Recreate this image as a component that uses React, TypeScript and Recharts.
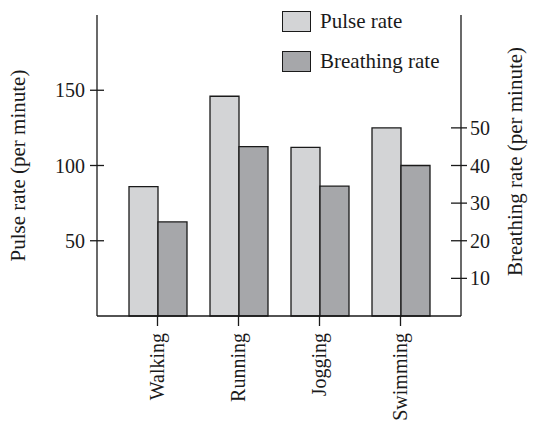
import { BarChart, Bar, XAxis, YAxis } from 'recharts'

const activities = ['Walking', 'Running', 'Jogging', 'Swimming']
const pulseRate = [86, 146, 112, 125]
const breathingRate = [25, 45, 34.5, 40]
const pulseTicks = [50, 100, 150]
const breathingTicks = [10, 20, 30, 40, 50]

const FONT = '"Liberation Serif", "Times New Roman", serif'
const INK = '#1a1a1a'
const LIGHT = '#d3d4d6'
const DARK = '#a6a7aa'
const FS = 20

const data = activities.map((name, i) => ({
  name,
  pulse: pulseRate[i],
  breathing: breathingRate[i],
}))

function CategoryTick({ x, y, payload }: any) {
  return (
    <g transform={`translate(${x},${y})`}>
      <line x1={0} y1={0} x2={0} y2={10} stroke={INK} strokeWidth={1.3} />
      <text
        transform="rotate(-90)"
        x={-17}
        y={0}
        dy="0.33em"
        textAnchor="end"
        fontSize={FS}
        fontFamily={FONT}
        fill={INK}
      >
        {payload.value}
      </text>
    </g>
  )
}

function LeftTick({ x, y, payload }: any) {
  return (
    <g transform={`translate(${x},${y})`}>
      <line x1={-7} y1={0} x2={7} y2={0} stroke={INK} strokeWidth={1.3} />
      <text x={-12} y={0} dy="0.35em" textAnchor="end" fontSize={FS} fontFamily={FONT} fill={INK}>
        {payload.value}
      </text>
    </g>
  )
}

function RightTick({ x, y, payload }: any) {
  return (
    <g transform={`translate(${x},${y})`}>
      <line x1={-10} y1={0} x2={6} y2={0} stroke={INK} strokeWidth={1.3} />
      <text x={9} y={0} dy="0.35em" textAnchor="start" fontSize={FS} fontFamily={FONT} fill={INK}>
        {payload.value}
      </text>
    </g>
  )
}

function AxisTitle({ viewBox, value, dx, dy }: any) {
  const cx = viewBox.x + dx
  const cy = viewBox.y + viewBox.height / 2 + dy
  return (
    <text
      x={cx}
      y={cy}
      transform={`rotate(-90, ${cx}, ${cy})`}
      textAnchor="middle"
      dy="0.35em"
      fontSize={21}
      fontFamily={FONT}
      fill={INK}
    >
      {value}
    </text>
  )
}

function LegendBox() {
  const items = [
    { label: 'Pulse rate', color: LIGHT },
    { label: 'Breathing rate', color: DARK },
  ]
  return (
    <div style={{
      position: 'absolute', left: 282, top: 2,
      fontFamily: FONT, fontSize: 21, color: INK, lineHeight: 1,
    }}>
      {items.map(it => (
        <div key={it.label} style={{ display: 'flex', alignItems: 'center', height: 39.5 }}>
          <span style={{
            display: 'inline-block', width: 29, height: 21, boxSizing: 'border-box',
            background: it.color, border: `1.3px solid ${INK}`, marginRight: 9,
          }} />
          <span>{it.label}</span>
        </div>
      ))}
    </div>
  )
}

export default function App() {
  return (
    <div style={{ position: 'absolute', left: 0, top: 0, width: 533, height: 428, background: '#fff' }}>
      <BarChart
        width={533}
        height={428}
        data={data}
        margin={{ top: 15, right: 32, bottom: 12, left: 37 }}
        barCategoryGap={12}
        barGap={0}
      >
        <XAxis
          dataKey="name"
          height={100}
          padding={{ left: 20, right: 20 }}
          tickSize={0}
          tickMargin={0}
          tickLine={false}
          axisLine={{ stroke: INK, strokeWidth: 1.3 }}
          tick={<CategoryTick />}
          interval={0}
        />
        <YAxis
          yAxisId="pulse"
          orientation="left"
          width={60}
          domain={[0, 200]}
          ticks={pulseTicks}
          tickSize={0}
          tickMargin={0}
          tickLine={false}
          axisLine={{ stroke: INK, strokeWidth: 1.3 }}
          tick={<LeftTick />}
          label={(p: any) => <AxisTitle {...p} value="Pulse rate (per minute)" dx={-19} dy={0} />}
        />
        <YAxis
          yAxisId="breathing"
          orientation="right"
          width={40}
          domain={[0, 80]}
          ticks={breathingTicks}
          tickSize={0}
          tickMargin={0}
          tickLine={false}
          axisLine={{ stroke: INK, strokeWidth: 1.3 }}
          tick={<RightTick />}
          label={(p: any) => <AxisTitle {...p} value="Breathing rate (per minute)" dx={54} dy={-4} />}
        />
        <Bar
          yAxisId="pulse"
          dataKey="pulse"
          name="Pulse rate"
          fill={LIGHT}
          stroke={INK}
          strokeWidth={1.3}
          isAnimationActive={false}
        />
        <Bar
          yAxisId="breathing"
          dataKey="breathing"
          name="Breathing rate"
          fill={DARK}
          stroke={INK}
          strokeWidth={1.3}
          isAnimationActive={false}
        />
      </BarChart>
      <LegendBox />
    </div>
  )
}
